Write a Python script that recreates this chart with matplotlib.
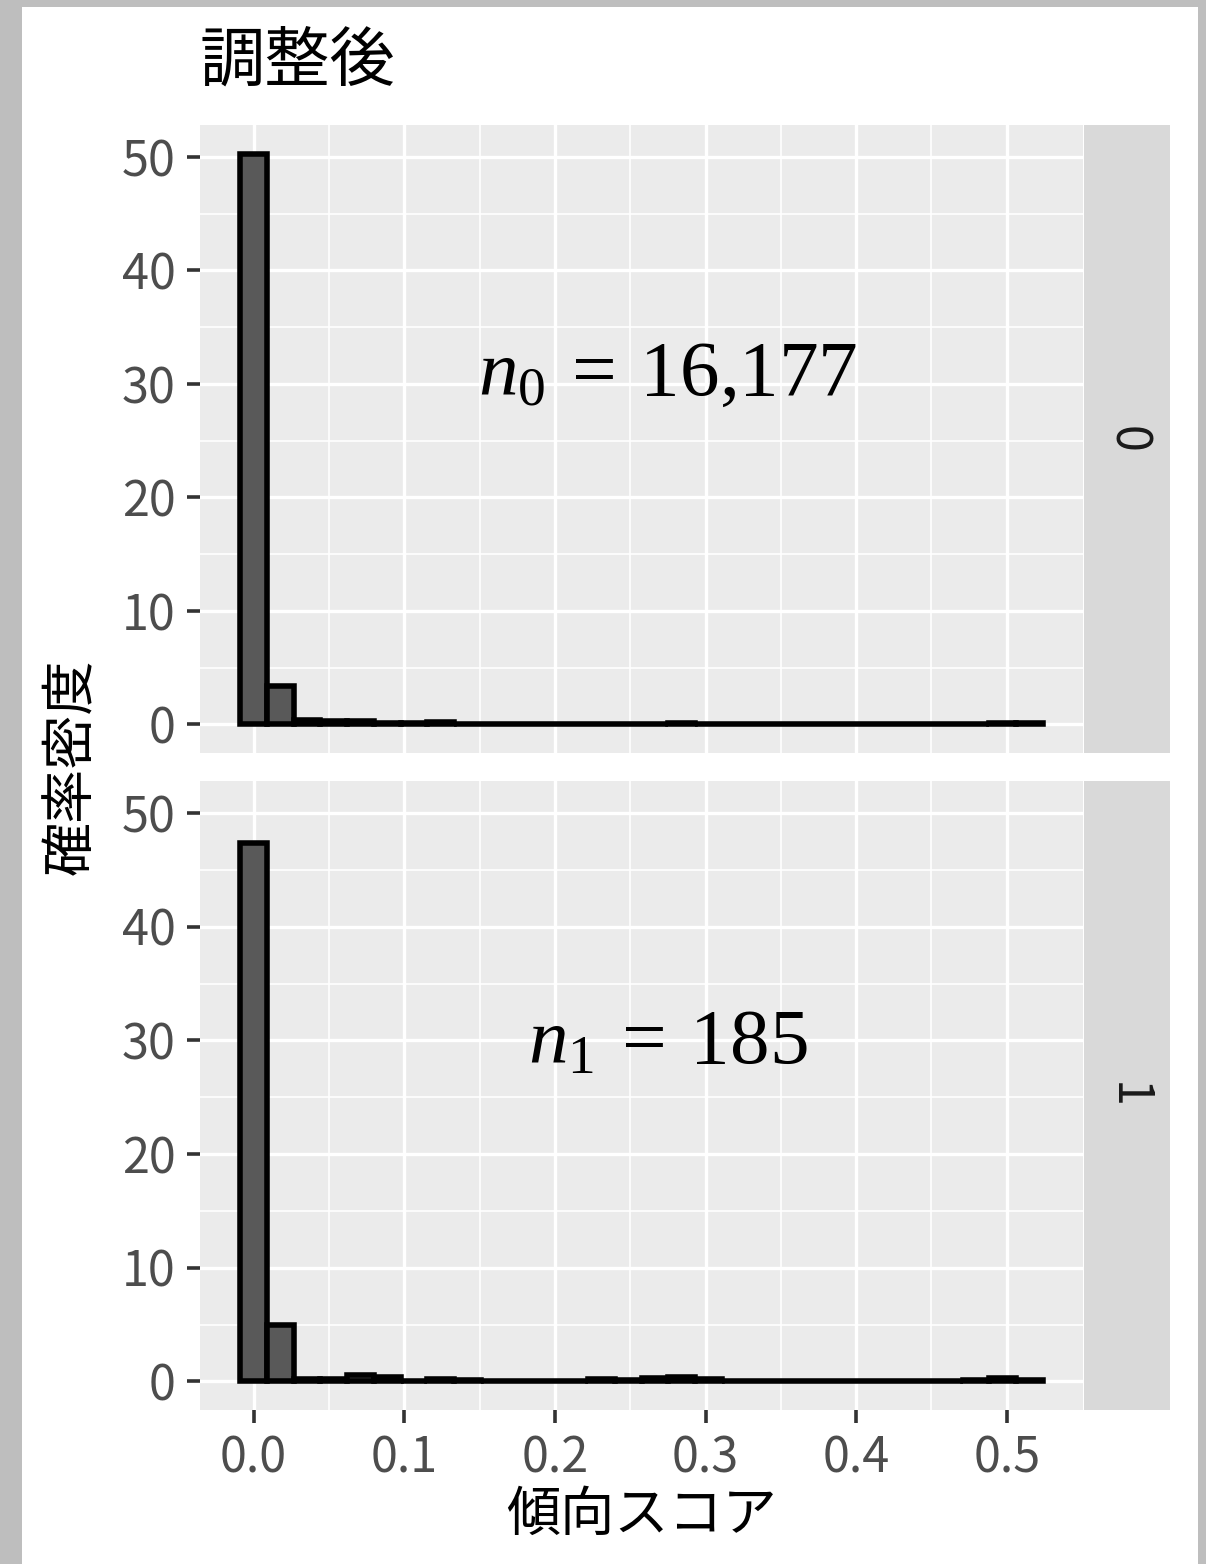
import matplotlib
matplotlib.use('Agg')
import matplotlib.pyplot as plt
from matplotlib.patches import Rectangle
import numpy as np

# Fonts: Japanese text + serif math for annotations
plt.rcParams['font.family'] = ['Noto Sans CJK JP', 'DejaVu Sans']
plt.rcParams['mathtext.fontset'] = 'custom'
plt.rcParams['mathtext.rm'] = 'Liberation Serif'
plt.rcParams['mathtext.it'] = 'Liberation Serif:italic'

# Histogram data (density per bin, 30 bins)
bin_width = 0.01776
n_bins = 30
density_0 = [50.3, 3.4, 0.39, 0.30, 0.30, 0.15, 0.10, 0.20, 0.06, 0.06,
             0.06, 0.06, 0.06, 0.06, 0.06, 0.06, 0.15, 0.06, 0.06, 0.06,
             0.06, 0.06, 0.06, 0.06, 0.06, 0.06, 0.06, 0.06, 0.15, 0.15]
density_1 = [47.4, 5.0, 0.18, 0.18, 0.53, 0.38, 0.0, 0.18, 0.09, 0.06,
             0.06, 0.06, 0.06, 0.18, 0.09, 0.26, 0.35, 0.18, 0.0, 0.0,
             0.0, 0.0, 0.0, 0.03, 0.0, 0.0, 0.0, 0.15, 0.32, 0.15]
panel_labels = ['0', '1']
annot_labels = [r'$n_0\:=\:16{,}177$', r'$n_1\:=\:185$']
annot_x = [0.275, 0.275]
annot_y = [31.0, 30.0]

x_ticks = [0.0, 0.1, 0.2, 0.3, 0.4, 0.5]
x_tick_labels = ['0.0', '0.1', '0.2', '0.3', '0.4', '0.5']
y_ticks = [0, 10, 20, 30, 40, 50]

centers = np.arange(n_bins) * bin_width

W, H = 1206, 1564
fig = plt.figure(figsize=(W / 100, H / 100), dpi=100)
fig.patch.set_facecolor('#BEBEBE')
fig.add_artist(Rectangle((22 / W, 0), (1198 - 22) / W, 1 - 7 / H,
                         transform=fig.transFigure, facecolor='white',
                         edgecolor='none', zorder=-10))

# panel rectangles in pixels (left, top, right, bottom)
panels = [(200, 125, 1083, 753), (200, 781, 1083, 1410)]
strip_x = (1084, 1170)

ymax = max(max(density_0), max(density_1))
ylim = (-0.05 * ymax, 1.05 * ymax)
x_lo = -bin_width / 2
x_hi = centers[-1] + bin_width / 2
xpad = 0.05 * (x_hi - x_lo)

for i, dens in enumerate([density_0, density_1]):
    l, t, r, b = panels[i]
    ax = fig.add_axes([l / W, 1 - b / H, (r - l) / W, (b - t) / H])
    ax.set_facecolor('#EBEBEB')
    for s in ax.spines.values():
        s.set_visible(False)

    ax.bar(centers, dens, width=bin_width, color='#595959',
           edgecolor='black', linewidth=4, zorder=3)

    ax.set_xlim(x_lo - xpad, x_hi + xpad)
    ax.set_ylim(*ylim)
    ax.set_xticks(x_ticks)
    ax.set_xticks([0.05, 0.15, 0.25, 0.35, 0.45], minor=True)
    ax.set_yticks(y_ticks)
    ax.set_yticks([5, 15, 25, 35, 45], minor=True)
    ax.grid(True, which='major', color='white', linewidth=2.4, zorder=0)
    ax.grid(True, which='minor', color='white', linewidth=1.2, zorder=0)
    ax.set_axisbelow(True)

    ax.tick_params(which='major', length=9.5, width=2.6, color='#333333',
                   labelsize=35, labelcolor='#4D4D4D', pad=8)
    ax.tick_params(which='minor', length=0)
    if i == 0:
        ax.set_xticklabels([])
        ax.tick_params(axis='x', which='major', length=0)
    else:
        ax.set_xticklabels(x_tick_labels)

    ax.text(annot_x[i], annot_y[i], annot_labels[i], fontsize=57,
            ha='center', va='center', color='black', zorder=5)

    # facet strip on the right
    sax = fig.add_axes([strip_x[0] / W, 1 - b / H,
                        (strip_x[1] - strip_x[0]) / W, (b - t) / H])
    sax.set_facecolor('#D9D9D9')
    sax.set_xticks([])
    sax.set_yticks([])
    for s in sax.spines.values():
        s.set_visible(False)
    sax.text(0.5, 0.5, panel_labels[i], rotation=-90, fontsize=35,
             color='#1A1A1A', ha='center', va='center',
             transform=sax.transAxes)

# Titles and axis labels
fig.text(200 / W, 1 - 62 / H, '調整後', fontsize=47, ha='left', va='center')
fig.text(641 / W, 1 - 1515 / H, '傾向スコア', fontsize=39, ha='center',
         va='center')
fig.text(72 / W, 1 - 767 / H, '確率密度', fontsize=39, rotation=90,
         ha='center', va='center')

plt.savefig('out.png', dpi=100)
plt.close()
